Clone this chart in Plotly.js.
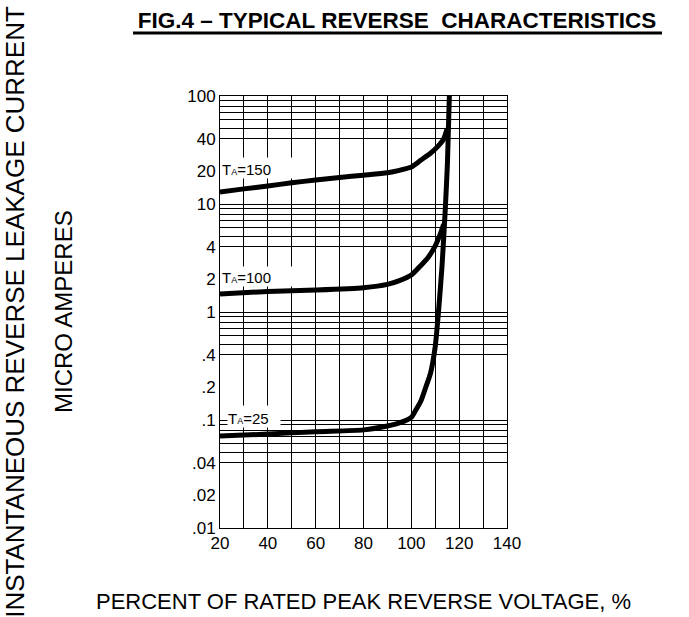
<!DOCTYPE html>
<html>
<head>
<meta charset="utf-8">
<script src="https://cdn.plot.ly/plotly-3.0.1.min.js"></script>
<style>html,body{margin:0;padding:0;background:#fff;}#chart{width:689px;height:617px;}</style>
</head>
<body>
<div id="chart"></div>
<script>
// ---- Data ----
const seriesNames = ['T<span style="font-size:9px">A</span>=150', 'T<span style="font-size:9px">A</span>=100', 'T<span style="font-size:9px">A</span>=25'];

const t150X = [20, 30, 40, 50, 60, 70, 80, 90, 95, 100, 104, 108, 111, 113.5, 115];
const t150Y = [12.9, 13.8, 14.7, 15.7, 16.7, 17.6, 18.5, 19.5, 20.5, 22, 25.5, 29.5, 34, 40, 50];

const t100X = [20, 40, 60, 80, 90, 95, 100, 104, 107, 110, 112, 113.5];
const t100Y = [1.47, 1.55, 1.6, 1.68, 1.8, 1.95, 2.2, 2.7, 3.2, 4.1, 5.2, 6.5];

const t25X = [20, 40, 60, 80, 90, 95, 100, 102, 104, 106, 108, 110, 111.3, 112.8, 114.1, 115.1, 115.9];
const t25Y = [0.071, 0.074, 0.078, 0.081, 0.088, 0.094, 0.106, 0.125, 0.15, 0.2, 0.27, 0.48, 0.97, 2.6, 8.2, 24, 100];

const xTickVals = [20, 40, 60, 80, 100, 120, 140];
const yTickVals = [0.01, 0.02, 0.04, 0.1, 0.2, 0.4, 1, 2, 4, 10, 20, 40, 100];
const yTickText = ['.01', '.02', '.04', '.1', '.2', '.4', '1', '2', '4', '10', '20', '40', '100'];

// ---- Grid values (axis configuration) ----
const blackGrid = [], grayGrid = [];
[0.01, 0.1, 1, 10].forEach(d => {
  for (let m = 1; m < 10; m++) {
    ((m === 2 || m === 3) ? grayGrid : blackGrid).push(+(m * d).toPrecision(6));
  }
});
blackGrid.push(100);

const FONT = 'Liberation Sans, Arial, Helvetica, sans-serif';
const lineStyle = {color: '#000', width: 5, shape: 'spline', smoothing: 0.6};

const traces = [
  {x: t150X, y: t150Y, name: 'TA=150', mode: 'lines', line: lineStyle, hoverinfo: 'skip'},
  {x: t100X, y: t100Y, name: 'TA=100', mode: 'lines', line: lineStyle, hoverinfo: 'skip'},
  {x: t25X, y: t25Y, name: 'TA=25', mode: 'lines', line: lineStyle, hoverinfo: 'skip'}
];

function lbl(text, xData, yVal, w, h, xshift) {
  return {
    text: text, x: xData, y: Math.log10(yVal), xref: 'x', yref: 'y',
    xanchor: 'left', yanchor: 'middle', showarrow: false,
    bgcolor: '#fff', width: w, height: h, align: 'left', valign: 'bottom',
    borderpad: 0, xshift: xshift || 0,
    font: {family: FONT, size: 15, color: '#000'}
  };
}

const layout = {
  width: 689, height: 617,
  margin: {l: 220, r: 182, t: 96, b: 89, pad: 0},
  paper_bgcolor: '#fff', plot_bgcolor: '#fff',
  showlegend: false,
  font: {family: FONT, color: '#000'},
  title: {
    text: '<b>FIG.4 – TYPICAL REVERSE  CHARACTERISTICS</b>',
    font: {family: FONT, size: 22.5, color: '#000'},
    x: 397 / 689, xanchor: 'center', xref: 'container',
    y: 1 - 20 / 617, yanchor: 'middle', yref: 'container'
  },
  xaxis: {
    type: 'linear', range: [20, 140],
    tickmode: 'array', tickvals: xTickVals,
    showgrid: true, gridcolor: '#000', gridwidth: 1,
    minor: {dtick: 10, tick0: 0, showgrid: true, gridcolor: '#000', gridwidth: 1, ticks: ''},
    showline: true, mirror: true, linecolor: '#000', linewidth: 1,
    zeroline: false, ticks: '',
    tickfont: {family: FONT, size: 17, color: '#000'},
    title: {text: 'PERCENT OF RATED PEAK REVERSE VOLTAGE, %', font: {family: FONT, size: 22, color: '#000'}, standoff: 41},
    fixedrange: true
  },
  yaxis: {
    type: 'log', range: [-2, 2],
    tickmode: 'array', tickvals: yTickVals, ticktext: yTickText,
    showgrid: false,
    minor: {tickmode: 'array', tickvals: blackGrid, showgrid: true, gridcolor: '#000', gridwidth: 1, ticks: ''},
    showline: true, mirror: true, linecolor: '#000', linewidth: 1,
    zeroline: false, ticks: '',
    tickfont: {family: FONT, size: 17, color: '#000'},
    title: {text: 'INSTANTANEOUS REVERSE LEAKAGE CURRENT', font: {family: FONT, size: 26, color: '#000'}, standoff: 160},
    fixedrange: true
  },
  yaxis2: {
    type: 'log', range: [-2, 2], overlaying: 'y', anchor: 'x', side: 'left',
    tickmode: 'array', tickvals: grayGrid,
    showgrid: true, gridcolor: '#8a8a8a', gridwidth: 1,
    showticklabels: false, ticks: '', showline: false, zeroline: false,
    fixedrange: true
  },
  annotations: [
    lbl(seriesNames[0], 20, Math.pow(10, 2 - (168 - 96) / 108), 72, 20, 1),
    lbl(seriesNames[1], 20, Math.pow(10, 2 - (276.5 - 96) / 108), 82, 19, 1),
    lbl(seriesNames[2], 22.9, Math.pow(10, 2 - (416.5 - 96) / 108), 52, 21, 0),
    {
      text: 'MICRO AMPERES', textangle: -90, showarrow: false,
      xref: 'paper', yref: 'paper', x: (63 - 220) / 287, y: 0.5,
      xanchor: 'center', yanchor: 'middle',
      font: {family: FONT, size: 24, color: '#000'}
    }
  ],
  shapes: [
    {type: 'line', xref: 'paper', yref: 'paper',
     x0: (133 - 220) / 287, x1: (662 - 220) / 287,
     y0: (528 - 33) / 432, y1: (528 - 33) / 432,
     line: {color: '#000', width: 3}}
  ]
};

Plotly.newPlot('chart', traces, layout, {displayModeBar: false, staticPlot: true});
</script>
</body>
</html>
